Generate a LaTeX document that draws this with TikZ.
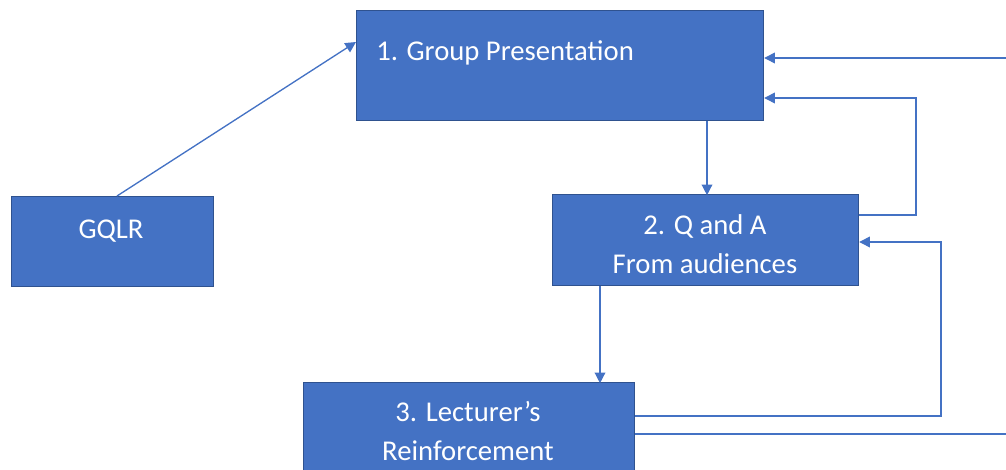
\documentclass[tikz,border=0pt]{standalone}
\usepackage{fontspec}
\setmainfont{Carlito}
\usetikzlibrary{arrows.meta}
\definecolor{boxblue}{HTML}{4472C4}
\definecolor{boxedge}{HTML}{2F528F}
\begin{document}
\begin{tikzpicture}[x=0.75pt,y=-0.75pt,
  stepbox/.style={draw=boxedge,fill=boxblue,line width=0.9pt,inner sep=0pt,anchor=north west},
  label/.style={text=white,font=\fontsize{21.5}{29}\selectfont,inner sep=0pt},
  conn/.style={draw=boxblue,line width=1pt,-{Triangle[length=8pt,width=8pt]}},
  plain/.style={draw=boxblue,line width=1pt}]
\useasboundingbox (0,0) rectangle (1006,470);
\node[stepbox,minimum width=407*0.75pt,minimum height=110*0.75pt] (b1) at (356,10) {};
\node[label,anchor=west] (t1) at (376,53) {1. Group Presentation};
\node[stepbox,minimum width=202*0.75pt,minimum height=90*0.75pt] (g) at (11,196) {};
\node[label] (tg) at (111,231) {GQLR};
\node[stepbox,minimum width=306*0.75pt,minimum height=91*0.75pt] (b2) at (552,194) {};
\node[label,align=center] (t2) at (705,244) {2. Q and A\\From audiences};
\node[stepbox,minimum width=331*0.75pt,minimum height=120*0.75pt] (b3) at (303,382) {};
\node[label,align=center] (t3) at (468,431) {3. Lecturer’s\\Reinforcement};
\coordinate (r1) at (1010,58);
\coordinate (r2) at (1010,434);
% connectors
\draw[conn] (g.north west) ++(106,0) coordinate (gs) -- (b1.north west |- 0,42);
\draw[conn] (b1.south west) ++(351,0) -- ++(0,74);
\draw[conn] (b2.south west) ++(48,0) -- ++(0,97);
\draw[conn] (b2.north east) ++(0,21) -| (916,98) -- (b1.east |- 0,98);
\draw[conn] (b3.north east) ++(0,34) -| (941,242) -- (b2.east |- 0,242);
\draw[plain] (b3.north east) ++(0,52) -- (r2);
\draw[conn] (r1) -- (b1.east |- 0,58);
\end{tikzpicture}
\end{document}
